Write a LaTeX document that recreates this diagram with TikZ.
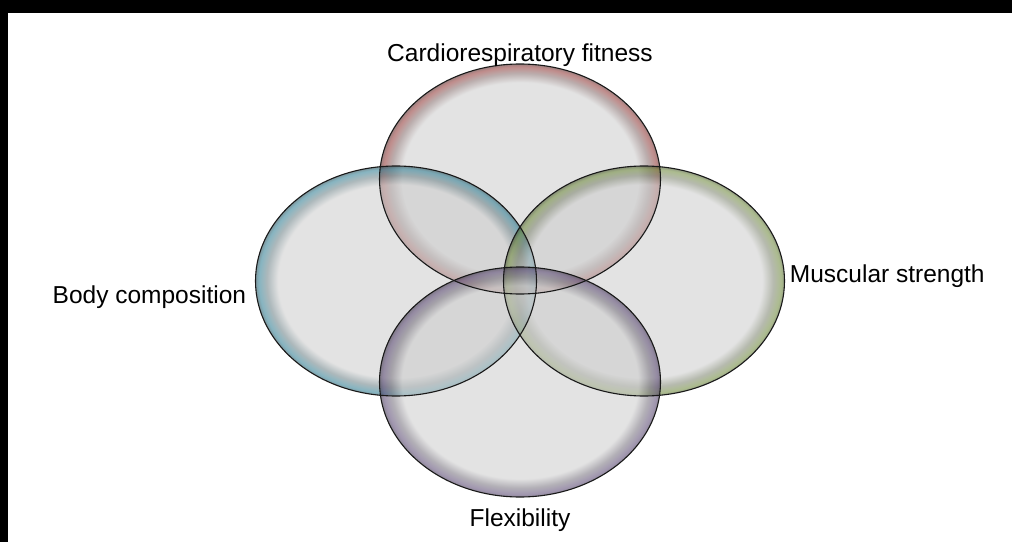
\documentclass[tikz,border=0pt]{standalone}
\usepackage{fontspec}
\setmainfont{Liberation Sans}
\usetikzlibrary{shapes.geometric,positioning}

\definecolor{bubblegray}{gray}{0.8}
\definecolor{cardiored}{HTML}{8C2D2B}
\definecolor{bodyteal}{HTML}{23788F}
\definecolor{musclegreen}{HTML}{688532}
\definecolor{flexpurple}{HTML}{53406E}

% soft coloured glow along the rim of a bubble
\newcommand\glowshading[2]{%
  \pgfdeclareradialshading{#1}{\pgfpoint{0bp}{0bp}}{%
    color(0bp)=(bubblegray); color(21bp)=(bubblegray);
    color(23bp)=(#2!25!gray); color(24.4bp)=(#2);
    color(25bp)=(#2!55!black); color(50bp)=(#2!55!black)}}
\glowshading{glowcardio}{cardiored}
\glowshading{glowbody}{bodyteal}
\glowshading{glowmuscle}{musclegreen}
\glowshading{glowflex}{flexpurple}

\tikzset{
  bubble/.style={ellipse, shade, inner sep=0pt, minimum width=281pt,
    minimum height=230pt, fill opacity=0.55},
  rim/.style={draw=black!90, line width=1.1pt},
  caption/.style={inner sep=0pt, font=\fontsize{24.5}{28}\selectfont},
}

\begin{document}
\begin{tikzpicture}[x=1pt,y=1pt]
  \useasboundingbox (0,0) rectangle (1012,542);
  % black frame edges
  \fill[black] (0,529) rectangle (1012,542);
  \fill[black] (0,0) rectangle (8,542);

  % the four bubbles
  \node[bubble, shading=glowcardio] (cardio) at (520,363) {};
  \node[bubble, shading=glowbody] (body) at (396,261) {};
  \node[bubble, shading=glowmuscle] (muscle) at (644,261) {};
  \node[bubble, shading=glowflex] (flex) at (520,160) {};

  % rims on top
  \foreach \b in {cardio,body,muscle,flex}
    \draw[rim] (\b.center) ellipse [x radius=140.5, y radius=115];

  % labels
  \node[caption, above=-3pt of cardio] (cardiotext) {Cardiorespiratory fitness};
  \node[caption, left=9pt of body, yshift=-16pt] (bodytext) {Body composition};
  \node[caption, right=5pt of muscle, yshift=5pt] (muscletext) {Muscular strength};
  \node[caption, below=11pt of flex] (flextext) {Flexibility};
\end{tikzpicture}
\end{document}
